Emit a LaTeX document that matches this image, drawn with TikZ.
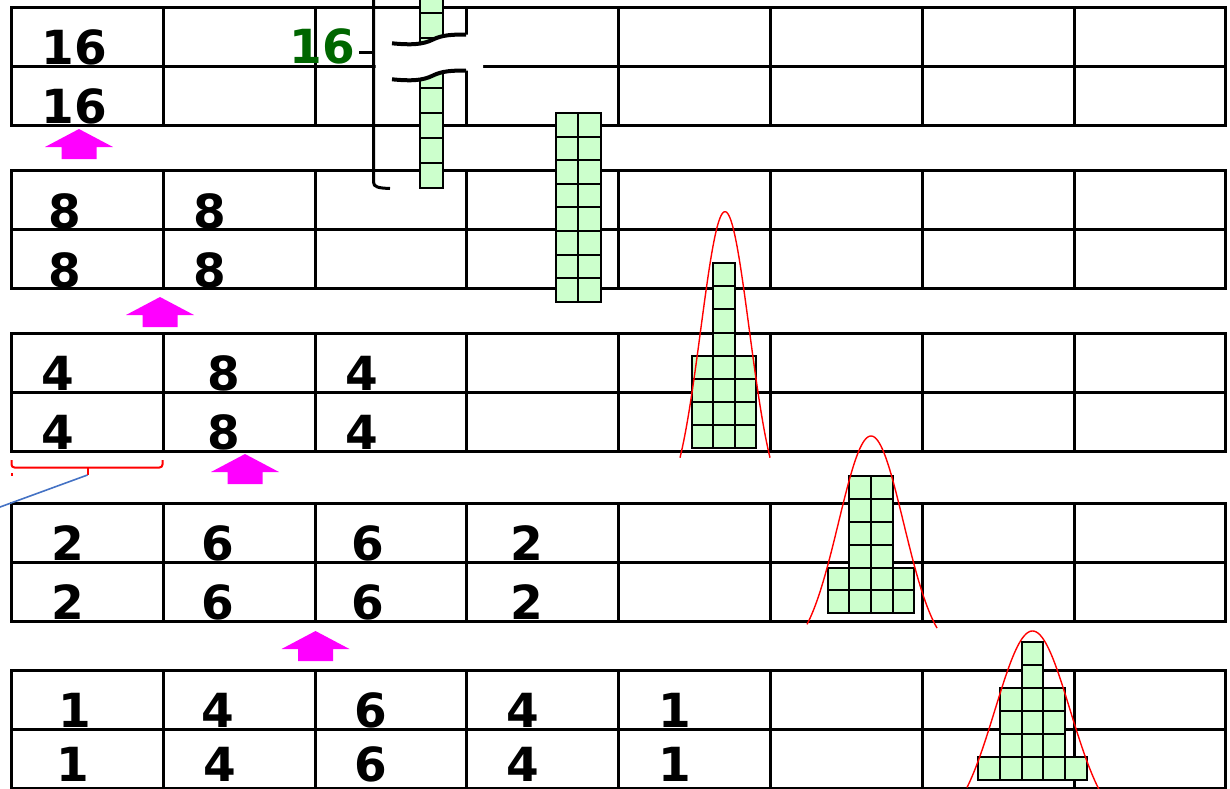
\documentclass[tikz,border=0pt]{standalone}
\usepackage{fontspec}
\setsansfont{DejaVu Sans}
\definecolor{binfill}{RGB}{204,255,204}
\definecolor{darkgreen}{RGB}{0,102,0}
\definecolor{arrowpink}{RGB}{255,0,255}
\definecolor{pointerblue}{RGB}{68,114,196}

\newcommand{\bincol}[5]{%
  \foreach \k in {1,...,#5}
    \draw[bincell] (#1,{#2-(\k-1)*#4}) rectangle ++(#3,-#4);
}
\newcommand{\uparrowat}[2]{%
  \fill[arrowpink] (#1,#2) -- ++(34,18) -- ++(-16.5,0) -- ++(0,12) -- ++(-35,0) -- ++(0,-12) -- ++(-16.5,0) -- cycle;
}

\begin{document}
\begin{tikzpicture}[x=0.5pt, y=-0.5pt,
    tableline/.style={line width=1.5pt},
    bincell/.style={draw=black, fill=binfill, line width=1pt},
    num/.style={font=\sffamily\bfseries\fontsize{23.5}{24}\selectfont, inner sep=0pt, text depth=0pt, anchor=base},
    gausscurve/.style={red, line width=0.7pt},
    breakline/.style={line width=2pt}]
    \useasboundingbox (0,0) rectangle (1230,788);
    \clip (0,0) rectangle (1230,788);

    \foreach \t in {7,170,333,503,670} {
        \draw[tableline] (11,\t) rectangle (1225,\t+118);
        \draw[tableline] (11,\t+59) -- (1225,\t+59);
        \foreach \c in {163,315,466.5,618,770,922,1074}
            \draw[tableline] (\c,\t) -- (\c,\t+118);
    }

    \bincol{420}{188}{23}{25}{16}
    \bincol{555.5}{301.7}{22.75}{23.6}{8}
    \bincol{578.25}{301.7}{22.75}{23.6}{8}
    \bincol{691.7}{448}{21.5}{23.1}{4}
    \bincol{713.2}{448}{21.5}{23.1}{8}
    \bincol{734.7}{448}{21.5}{23.1}{4}
    \bincol{827.7}{613.3}{21.65}{22.9}{2}
    \bincol{849.35}{613.3}{21.65}{22.9}{6}
    \bincol{871}{613.3}{21.65}{22.9}{6}
    \bincol{892.65}{613.3}{21.65}{22.9}{2}
    \bincol{978.3}{780}{21.7}{23.05}{1}
    \bincol{1000}{780}{21.7}{23.05}{4}
    \bincol{1021.7}{780}{21.7}{23.05}{6}
    \bincol{1043.4}{780}{21.7}{23.05}{4}
    \bincol{1065.1}{780}{21.7}{23.05}{1}

    \fill[white] (375.5,43.3) -- (392,43.3) .. controls (410,45) and (422,45) .. (433,39.5) .. controls (442,35) and (452,34.5) .. (466,34.5)
        -- (483,34.5) -- (483,70.5) -- (466,70.5) .. controls (452,70.5) and (442,71) .. (433,75.5) .. controls (422,81) and (410,81) .. (392,79.3) -- (375.5,79.3) -- cycle;
    \draw[breakline] (392,43.3) .. controls (410,45) and (422,45) .. (433,39.5) .. controls (442,35) and (452,34.5) .. (466,34.5);
    \draw[breakline] (392,79.3) .. controls (410,81) and (422,81) .. (433,75.5) .. controls (442,71) and (452,70.5) .. (466,70.5);
    \draw[line width=1.5pt] (373.5,-5) -- (373.5,182) .. controls (373.5,187) and (378,188) .. (390,188.5);
    \draw[line width=1.5pt] (359,52) -- (373.5,52);

    \node[num] (b1r1c1) at (74,64) {16};
    \node[num] (b1r2c1) at (74,123) {16};
    \node[num, darkgreen] (total) at (322,63) {16};

    \node[num] (b2r1c1) at (65,228) {8};
    \node[num] (b2r1c2) at (210,228) {8};
    \node[num] (b2r2c1) at (65,287) {8};
    \node[num] (b2r2c2) at (210,287) {8};

    \node[num] (b3r1c1) at (58,390) {4};
    \node[num] (b3r1c2) at (224,390) {8};
    \node[num] (b3r1c3) at (362,390) {4};
    \node[num] (b3r2c1) at (58,449) {4};
    \node[num] (b3r2c2) at (224,449) {8};
    \node[num] (b3r2c3) at (362,449) {4};

    \node[num] (b4r1c1) at (68,560) {2};
    \node[num] (b4r1c2) at (218,560) {6};
    \node[num] (b4r1c3) at (368,560) {6};
    \node[num] (b4r1c4) at (527,560) {2};
    \node[num] (b4r2c1) at (68,619) {2};
    \node[num] (b4r2c2) at (218,619) {6};
    \node[num] (b4r2c3) at (368,619) {6};
    \node[num] (b4r2c4) at (527,619) {2};

    \node[num] (b5r1c1) at (75,727) {1};
    \node[num] (b5r1c2) at (218,727) {4};
    \node[num] (b5r1c3) at (371,727) {6};
    \node[num] (b5r1c4) at (523,727) {4};
    \node[num] (b5r1c5) at (675,727) {1};
    \node[num] (b5r2c1) at (73,781) {1};
    \node[num] (b5r2c2) at (220,781) {4};
    \node[num] (b5r2c3) at (371,781) {6};
    \node[num] (b5r2c4) at (523,781) {4};
    \node[num] (b5r2c5) at (675,781) {1};

    \uparrowat{79}{129}
    \uparrowat{160}{297}
    \uparrowat{245}{454}
    \uparrowat{315.5}{631}

    \draw[red, line width=1pt, rounded corners=1.5] (11.5,460) -- (11.5,467.5) -- (162.5,467.5) -- (162.5,460);
    \draw[red, line width=1pt] (87.5,467.5) -- (87.5,475);
    \draw[red, line width=0.8pt] (12,473) -- (12,476);
    \coordinate (bracetip) at (87.5,475);
    \coordinate (pointerend) at (-12,511.4);
    \draw[pointerblue, line width=0.8pt] (bracetip) -- (pointerend);

    \draw[gausscurve] plot[domain=680:770, samples=80] (\x, {511.7-300*exp(-((\x-725)*(\x-725))/(2*24.3*24.3))});
    \draw[gausscurve] plot[domain=807:937, samples=80] (\x, {656-220*exp(-((\x-871)*(\x-871))/(2*32.5*32.5))});
    \draw[gausscurve] plot[domain=967:1100, samples=80] (\x, {831-200*exp(-((\x-1032.5)*(\x-1032.5))/(2*37.5*37.5))});
\end{tikzpicture}
\end{document}
